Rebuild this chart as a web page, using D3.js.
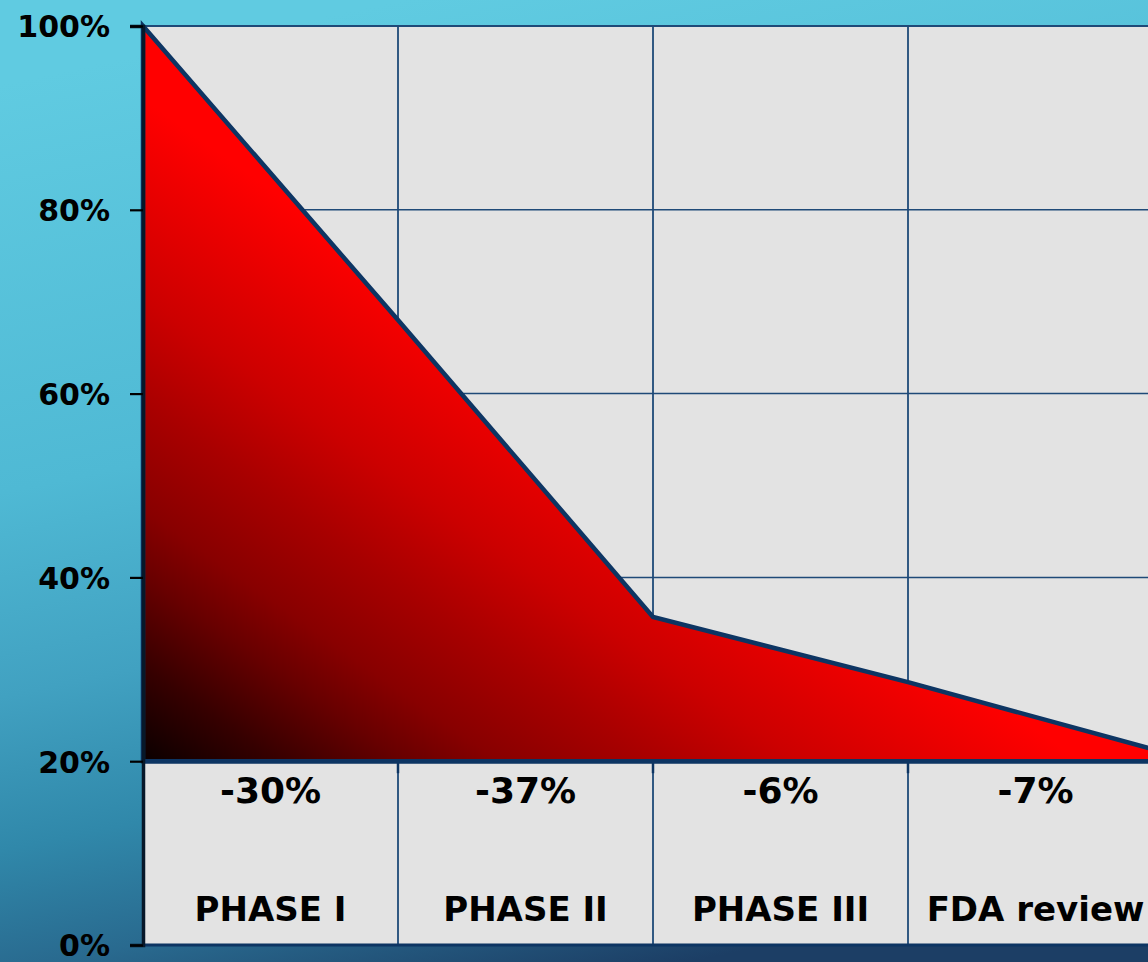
<!DOCTYPE html>
<html>
<head>
<meta charset="utf-8">
<script src="https://cdn.jsdelivr.net/npm/d3@7"></script>
<style>
  html, body { margin: 0; padding: 0; background: #1d436a; }
  svg { display: block; }
  text { font-family: "Comic Sans MS", "DejaVu Sans", sans-serif; font-weight: bold; fill: #000; }
</style>
</head>
<body>
<svg id="chart" width="1148" height="962"></svg>
<script>
// Stage boundaries (index) and the share of candidates still in the pipeline (%)
const stageBounds = [0, 1, 2, 3, 4];
const remaining = [100, 68, 35.7, 28.6, 21];

// Table rows under the plot
const stages = ["PHASE I", "PHASE II", "PHASE III", "FDA review"];
const changes = ["-30%", "-37%", "-6%", "-7%"];

// Y axis ticks
const yTicks = [0, 20, 40, 60, 80, 100];
const gridLevels = [40, 60, 80, 100];
const baseLevel = 20;

const W = 1148, H = 962;
const svg = d3.select("#chart");

const x = d3.scaleLinear().domain([0, 4]).range([143, 1163]);
const y = d3.scaleLinear().domain([0, 100]).range([945, 26]);

const defs = svg.append("defs");

// page background: light cyan at the top fading to deep navy
const bg = defs.append("linearGradient")
  .attr("id", "bgGrad").attr("x1", 0.35).attr("y1", 0).attr("x2", 0.6).attr("y2", 1);
[[0, "#60cbe1"], [0.4, "#4fb9d4"], [0.6, "#41a1c1"], [0.75, "#3088aa"],
 [0.87, "#296a8f"], [1, "#1c3e65"]].forEach(([o, c]) =>
  bg.append("stop").attr("offset", o).attr("stop-color", c));

// area fill: near-black in the lower-left corner rising to bright red
const ag = defs.append("linearGradient")
  .attr("id", "areaGrad").attr("gradientUnits", "userSpaceOnUse")
  .attr("x1", x(0)).attr("y1", y(baseLevel))
  .attr("x2", x(1.224)).attr("y2", y(68.1));
[[0, "#0a0000"], [0.143, "#360000"], [0.28, "#680000"], [0.38, "#880000"],
 [0.54, "#a80000"], [0.7, "#cc0000"], [1, "#ff0000"]]
  .forEach(([o, c]) => ag.append("stop").attr("offset", o).attr("stop-color", c));

svg.append("rect").attr("width", W).attr("height", H).attr("fill", "url(#bgGrad)");

// plot / table background
svg.append("rect")
  .attr("x", x(0)).attr("y", y(100))
  .attr("width", x(4) + 40 - x(0)).attr("height", y(0) - y(100))
  .attr("fill", "#e3e3e3");

const gridColor = "#1f4a78";

// horizontal gridlines
svg.append("g").selectAll("line").data(gridLevels).join("line")
  .attr("x1", x(0)).attr("x2", x(4) + 40)
  .attr("y1", d => y(d)).attr("y2", d => y(d))
  .attr("stroke", gridColor).attr("stroke-width", d => d === 100 ? 2 : 1.5);

// vertical gridlines through plot and table
svg.append("g").selectAll("line").data(stageBounds.slice(1)).join("line")
  .attr("x1", d => x(d)).attr("x2", d => x(d))
  .attr("y1", y(100)).attr("y2", y(0))
  .attr("stroke", gridColor).attr("stroke-width", 1.8);

// category ticks just below the baseline
svg.append("g").selectAll("line").data(stageBounds.slice(1)).join("line")
  .attr("x1", d => x(d)).attr("x2", d => x(d))
  .attr("y1", y(baseLevel)).attr("y2", y(baseLevel) + 12)
  .attr("stroke", "#0d3563").attr("stroke-width", 2.5);

// bottom border of the table
svg.append("line")
  .attr("x1", x(0)).attr("x2", x(4) + 40)
  .attr("y1", y(0)).attr("y2", y(0))
  .attr("stroke", "#0d3563").attr("stroke-width", 3);

// baseline under the area, continued to the edge
svg.append("line")
  .attr("x1", x(0)).attr("x2", x(4) + 40)
  .attr("y1", y(baseLevel)).attr("y2", y(baseLevel))
  .attr("stroke", "#0d3563").attr("stroke-width", 4.5);

// attrition area
const area = d3.area()
  .x((d, i) => x(stageBounds[i]))
  .y0(y(baseLevel))
  .y1(d => y(d));

svg.append("path")
  .datum(remaining)
  .attr("d", area)
  .attr("fill", "url(#areaGrad)")
  .attr("stroke", "#0d3563")
  .attr("stroke-width", 4.5)
  .attr("stroke-linejoin", "miter");

// y axis
const yAxis = d3.axisLeft(y)
  .tickValues(yTicks)
  .tickSize(13)
  .tickPadding(20)
  .tickFormat(d => d + "%");

const ga = svg.append("g")
  .attr("transform", `translate(${x(0)},0)`)
  .call(yAxis);
ga.select(".domain").attr("stroke", "#07182a").attr("stroke-width", 3.5);
ga.selectAll(".tick line").attr("stroke", "#000").attr("stroke-width", 2.2);
ga.selectAll(".tick text")
  .attr("font-size", 30)
  .attr("font-family", null)
  .attr("fill", "#000")
  .attr("dy", "0.36em");

// table: change per stage and stage names
svg.append("g").selectAll("text").data(changes).join("text")
  .attr("x", (d, i) => x(i + 0.5))
  .attr("y", 803)
  .attr("text-anchor", "middle")
  .attr("font-size", 36)
  .text(d => d);

svg.append("g").selectAll("text").data(stages).join("text")
  .attr("x", (d, i) => x(i + 0.5))
  .attr("y", 921)
  .attr("text-anchor", "middle")
  .attr("font-size", 34)
  .text(d => d);
</script>
</body>
</html>
